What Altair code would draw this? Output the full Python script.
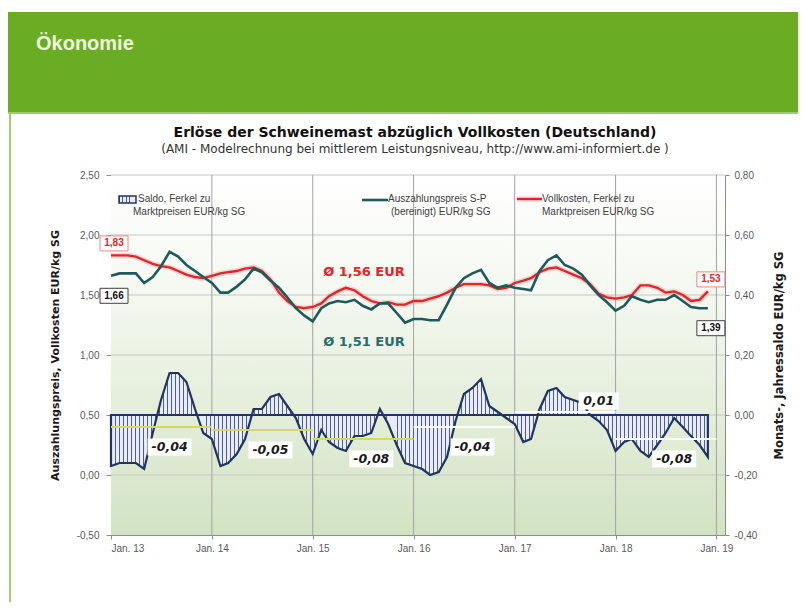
import altair as alt
import pandas as pd

# ------------------------------------------------------------------ data
vollkosten = [1.83, 1.83, 1.83, 1.82, 1.79, 1.76, 1.74, 1.73, 1.70, 1.67, 1.65, 1.64,
              1.66, 1.68, 1.69, 1.70, 1.72, 1.73, 1.70, 1.63, 1.52, 1.45, 1.40, 1.39,
              1.40, 1.43, 1.49, 1.53, 1.56, 1.54, 1.49, 1.45, 1.43, 1.44, 1.42, 1.42,
              1.45, 1.45, 1.47, 1.49, 1.52, 1.56, 1.59, 1.59, 1.59, 1.58, 1.55, 1.56,
              1.60, 1.62, 1.64, 1.69, 1.72, 1.73, 1.70, 1.67, 1.64, 1.59, 1.51, 1.48,
              1.47, 1.48, 1.50, 1.58, 1.58, 1.56, 1.52, 1.53, 1.50, 1.45, 1.46, 1.53]
auszahlungspreis = [1.66, 1.68, 1.68, 1.68, 1.60, 1.65, 1.74, 1.86, 1.82, 1.75, 1.70, 1.65,
                    1.60, 1.52, 1.52, 1.57, 1.63, 1.72, 1.69, 1.62, 1.56, 1.48, 1.39, 1.33,
                    1.28, 1.39, 1.43, 1.45, 1.44, 1.46, 1.41, 1.38, 1.43, 1.43, 1.35, 1.27,
                    1.30, 1.30, 1.29, 1.29, 1.42, 1.56, 1.64, 1.68, 1.71, 1.60, 1.56, 1.58,
                    1.56, 1.55, 1.54, 1.70, 1.79, 1.83, 1.75, 1.72, 1.67, 1.58, 1.50, 1.44,
                    1.37, 1.41, 1.49, 1.46, 1.44, 1.46, 1.46, 1.50, 1.45, 1.40, 1.39, 1.39]
saldo = [-0.17, -0.16, -0.16, -0.16, -0.18, -0.06, 0.05, 0.14, 0.14, 0.11, 0.02, -0.06,
         -0.08, -0.17, -0.16, -0.13, -0.08, 0.02, 0.02, 0.06, 0.07, 0.03, -0.01, -0.08,
         -0.13, -0.05, -0.09, -0.11, -0.12, -0.07, -0.07, -0.06, 0.02, -0.03, -0.10, -0.16,
         -0.17, -0.18, -0.20, -0.19, -0.14, -0.02, 0.07, 0.09, 0.12, 0.03, 0.01, -0.01,
         -0.03, -0.09, -0.08, 0.02, 0.08, 0.09, 0.06, 0.05, 0.04, 0.00, -0.02, -0.05,
         -0.12, -0.09, -0.08, -0.12, -0.14, -0.10, -0.06, -0.01, -0.04, -0.07, -0.10, -0.14]
jahre = [2013, 2014, 2015, 2016, 2017, 2018]
jahressaldo = [-0.04, -0.05, -0.08, -0.04, 0.01, -0.08]
durchschnitt = ["Ø 1,56 EUR", "Ø 1,51 EUR"]
left_ticks = [-0.5, 0.0, 0.5, 1.0, 1.5, 2.0, 2.5]
right_ticks = [-0.4, -0.2, 0.0, 0.2, 0.4, 0.6, 0.8]
tick_years = [2013, 2014, 2015, 2016, 2017, 2018, 2019]

# ------------------------------------------------------------------ tables
months = pd.date_range("2013-01-01", periods=len(saldo), freq="MS")
df = pd.DataFrame({"date": months, "voll": vollkosten, "ausz": auszahlungspreis, "saldo": saldo})


def comma(v):
    return f"{v:.2f}".replace(".", ",")


ends = pd.DataFrame({
    "date": [months[0], months[-1], months[0], months[-1]],
    "val": [vollkosten[0], vollkosten[-1], auszahlungspreis[0], auszahlungspreis[-1]],
    "series": ["voll", "voll", "ausz", "ausz"],
})
ends["text"] = ends["val"].map(comma)

avg = pd.DataFrame({
    "start": [pd.Timestamp(f"{y}-01-01") for y in jahre],
    "end": [pd.Timestamp(f"{y + 1}-01-01") for y in jahre],
    "avg": jahressaldo,
})
avg["text"] = avg["avg"].map(comma)
avg["ldate"] = [pd.Timestamp(f"{y}-08-01") if a < 0 else pd.Timestamp(f"{y}-11-01")
                for y, a in zip(jahre, jahressaldo)]
avg["old"] = [y < 2016 for y in jahre]

grid_x = pd.DataFrame({"date": [pd.Timestamp(f"{y}-01-01") for y in tick_years[1:]]})
grid_y = pd.DataFrame({"v": left_ticks[1:]})
one = pd.DataFrame({"k": [0]})

# ------------------------------------------------------------------ style
W, H = 614, 360
PR = 73
FONT = "Liberation Sans"
WIDE = "DejaVu Sans"
RED = "#e2232a"
TEAL = "#1d5a5c"
NAVY = "#1f3560"


def stripes(n, dark="#4f5d8e", light="#e8ecf6", frac=0.24):
    stops = []
    for i in range(n):
        a, b, c = i / n, (i + frac) / n, (i + 1) / n
        stops += [alt.GradientStop(offset=a, color=dark), alt.GradientStop(offset=b, color=dark),
                  alt.GradientStop(offset=b, color=light), alt.GradientStop(offset=min(c, 1.0), color=light)]
    return alt.LinearGradient(gradient="linear", stops=stops, x1=0, x2=1, y1=0, y2=0)


bg_grad = alt.LinearGradient(gradient="linear", x1=0, x2=0, y1=0, y2=1, stops=[
    alt.GradientStop(offset=0, color="#ffffff"),
    alt.GradientStop(offset=0.3, color="#f6f9f2"),
    alt.GradientStop(offset=1, color="#d2e3c3"),
])

x_scale = alt.Scale(domain=[alt.DateTime(year=2013, month=1, date=1),
                            alt.DateTime(year=2019, month=2, date=1)])
x_axis = alt.Axis(values=[alt.DateTime(year=y, month=1, date=1) for y in tick_years],
                  labelExpr="'Jan. ' + timeFormat(datum.value, '%y')", title=None, grid=False,
                  labelFont=FONT, labelFontSize=10, labelColor="#595959", tickSize=4,
                  tickColor="#8c8c8c", domainColor="#8c8c8c", labelPadding=4)
num_expr = "replace(replace(format(datum.value, '.2f'), '.', ','), '\u2212', '-')"
yl_scale = alt.Scale(domain=[-0.5, 2.5], nice=False, zero=False)
yl_axis = alt.Axis(values=left_ticks, labelExpr=num_expr, grid=False,
                   title="Auszahlungspreis, Vollkosten EUR/kg SG",
                   titleFont=WIDE, titleFontSize=11, titleFontWeight="bold", titleColor="#1a1a1a",
                   titleX=-56, titleY=H / 2, titleAngle=270, titleBaseline="middle",
                   labelFont=FONT, labelFontSize=10, labelColor="#595959", tickSize=5,
                   tickColor="#8c8c8c", domainColor="#8c8c8c", labelPadding=7)
yr_scale = alt.Scale(domain=[-0.4, 0.8], nice=False, zero=False)
yr_axis = alt.Axis(values=right_ticks, labelExpr=num_expr, grid=False, orient="right",
                   title="Monats-, Jahressaldo   EUR/kg SG",
                   titleFont=WIDE, titleFontSize=11.5, titleFontWeight="bold", titleColor="#1a1a1a",
                   titleX=54, titleY=H / 2, titleAngle=270, titleBaseline="middle",
                   labelFont=FONT, labelFontSize=10, labelColor="#595959", tickSize=4,
                   tickColor="#8c8c8c", domainColor="#8c8c8c", labelPadding=5)

X = alt.X("date:T", scale=x_scale, axis=x_axis)
YL = lambda f: alt.Y(f, scale=yl_scale, axis=yl_axis)
YR = lambda f: alt.Y(f, scale=yr_scale, axis=yr_axis)


def txt(s, x, y, **kw):
    kw.setdefault("font", FONT)
    return alt.Chart(one).mark_text(text=s, **kw).encode(x=alt.value(x), y=alt.value(y))


def box(w, h):
    r = h / w
    return f"M-1,{-r}L1,{-r}L1,{r}L-1,{r}Z"


# ------------------------------------------------------------------ left-scale group
bg = alt.Chart(one).mark_rect(fill=bg_grad).encode(
    x=alt.value(0), x2=alt.value(W), y=alt.value(0), y2=alt.value(H))
hgrid = alt.Chart(grid_y).mark_rule(color="#c6c6c6", strokeWidth=1).encode(y=YL("v:Q"))
vgrid = alt.Chart(grid_x).mark_rule(color="#a3a3a3", strokeWidth=1).encode(x=X)

base = alt.Chart(df).encode(x=X)
halo = base.mark_line(color="#f4a0a0", strokeWidth=5.5, opacity=0.4).encode(y=YL("voll:Q"))
red = base.mark_line(color=RED, strokeWidth=2.3).encode(y=YL("voll:Q"))
teal = base.mark_line(color=TEAL, strokeWidth=2.6).encode(y=YL("ausz:Q"))

ends_c = alt.Chart(ends).encode(x=X, y=YL("val:Q"))
rbox = ends_c.transform_filter("datum.series == 'voll'").mark_point(
    shape=box(28, 15), size=28 * 28, filled=True, fill="white", fillOpacity=1,
    stroke="#e58a8a", strokeWidth=1, opacity=1, xOffset=3, yOffset=-12)
rtxt = ends_c.transform_filter("datum.series == 'voll'").mark_text(
    font=FONT, fontSize=10, fontWeight="bold", color=RED, dx=3, dy=-12).encode(text="text:N")
tbox = ends_c.transform_filter("datum.series == 'ausz'").mark_point(
    shape=box(28, 15), size=28 * 28, filled=True, fill="white", fillOpacity=1,
    stroke="#404040", strokeWidth=1, opacity=1, xOffset=3, yOffset=20)
ttxt = ends_c.transform_filter("datum.series == 'ausz'").mark_text(
    font=FONT, fontSize=10, fontWeight="bold", color="#111111", dx=3, dy=20).encode(text="text:N")

avg_red = txt(durchschnitt[0], 253, 97, font=WIDE, fontSize=13, fontWeight="bold", color=RED)
avg_teal = txt(durchschnitt[1], 253, 167, font=WIDE, fontSize=13, fontWeight="bold", color="#2a6b6b")

# page decoration (header band, titles, legend) in pixels relative to the plot origin
header = alt.Chart(one).mark_rect(color="#6aad25").encode(
    x=alt.value(-103), x2=alt.value(W + PR), y=alt.value(-163), y2=alt.value(-62))
header_line = alt.Chart(one).mark_rect(color="#9fcd6e").encode(
    x=alt.value(-103), x2=alt.value(W + PR), y=alt.value(-63), y2=alt.value(-61))
side_line = alt.Chart(one).mark_rect(color="#9fcd6e").encode(
    x=alt.value(-102), x2=alt.value(-100), y=alt.value(-62), y2=alt.value(H + 80))
header_txt = txt("Ökonomie", -75, -125, fontSize=20, fontWeight="bold", color="#eef6dc",
                 align="left", baseline="alphabetic")
title = txt("Erlöse der Schweinemast abzüglich Vollkosten (Deutschland)", W / 2 - 3, -42,
            font=WIDE, fontSize=14, fontWeight="bold", color="#111111")
subtitle = txt("(AMI - Modelrechnung bei mittlerem Leistungsniveau, http://www.ami-informiert.de )",
               W / 2 - 3, -26, font=WIDE, fontSize=12, color="#333333")

leg_kw = dict(fontSize=10, color="#404040", align="left")
leg_box = alt.Chart(one).mark_rect(fill=stripes(5), stroke=NAVY, strokeWidth=1.5).encode(
    x=alt.value(8), x2=alt.value(25), y=alt.value(21), y2=alt.value(28))
leg1a = txt("Saldo, Ferkel zu", 27, 24, **leg_kw)
leg1b = txt("Marktpreisen EUR/kg SG", 22, 37, **leg_kw)
leg_teal = alt.Chart(one).mark_rule(color=TEAL, strokeWidth=2.6).encode(
    x=alt.value(251), x2=alt.value(277), y=alt.value(25))
leg2a = txt("Auszahlungspreis S-P", 277, 24, **leg_kw)
leg2b = txt("(bereinigt) EUR/kg SG", 280, 37, **leg_kw)
leg_halo = alt.Chart(one).mark_rule(color="#f4a0a0", strokeWidth=5.5, opacity=0.4).encode(
    x=alt.value(406), x2=alt.value(431), y=alt.value(24))
leg_red = alt.Chart(one).mark_rule(color=RED, strokeWidth=2.3).encode(
    x=alt.value(406), x2=alt.value(431), y=alt.value(24))
leg3a = txt("Vollkosten, Ferkel zu", 431, 24, **leg_kw)
leg3b = txt("Marktpreisen EUR/kg SG", 431, 37, **leg_kw)

left = alt.layer(bg, hgrid, vgrid, halo, red, teal, rbox, rtxt, tbox, ttxt, avg_red, avg_teal,
                 header, header_line, side_line, header_txt, title, subtitle,
                 leg_box, leg1a, leg1b, leg_teal, leg2a, leg2b, leg_halo, leg_red, leg3a, leg3b)

# ------------------------------------------------------------------ right-scale group (Saldo)
area = alt.Chart(df).mark_area(fill=stripes(150), stroke=NAVY, strokeWidth=2.2).encode(
    x=X, y=YR("saldo:Q"), y2=alt.datum(0))
avg_c = alt.Chart(avg)
avg_old = avg_c.transform_filter("datum.old").mark_rule(color="#d3d868", strokeWidth=2).encode(
    x=alt.X("start:T", scale=x_scale, axis=x_axis), x2="end:T", y=YR("avg:Q"))
avg_new = avg_c.transform_filter("!datum.old").mark_rule(color="#ffffff", strokeWidth=2).encode(
    x=alt.X("start:T", scale=x_scale, axis=x_axis), x2="end:T", y=YR("avg:Q"))
lab = avg_c.encode(x=alt.X("ldate:T", scale=x_scale, axis=x_axis), y=YR("avg:Q"))
neg_box = lab.transform_filter("datum.avg < 0").mark_point(
    shape=box(44, 17), size=44 * 44, filled=True, fill="white", fillOpacity=1, strokeWidth=0,
    opacity=1, yOffset=20)
neg_txt = lab.transform_filter("datum.avg < 0").mark_text(
    font=WIDE, fontSize=12.5, fontWeight="bold", fontStyle="italic", color="#1a1a1a", dy=20
).encode(text="text:N")
pos_box = lab.transform_filter("datum.avg >= 0").mark_point(
    shape=box(40, 17), size=40 * 40, filled=True, fill="white", fillOpacity=1, strokeWidth=0,
    opacity=1, yOffset=-11)
pos_txt = lab.transform_filter("datum.avg >= 0").mark_text(
    font=WIDE, fontSize=12.5, fontWeight="bold", fontStyle="italic", color="#1a1a1a", dy=-11
).encode(text="text:N")

right = alt.layer(area, avg_old, avg_new, neg_box, neg_txt, pos_box, pos_txt)

chart = alt.layer(left, right).resolve_scale(y="independent").properties(
    width=W, height=H,
    autosize=alt.AutoSizeParams(type="none"),
    padding={"left": 103, "top": 167, "right": PR, "bottom": 67},
).configure_view(stroke=None)

chart.save("out.html", embed_options={"renderer": "svg", "actions": False})
